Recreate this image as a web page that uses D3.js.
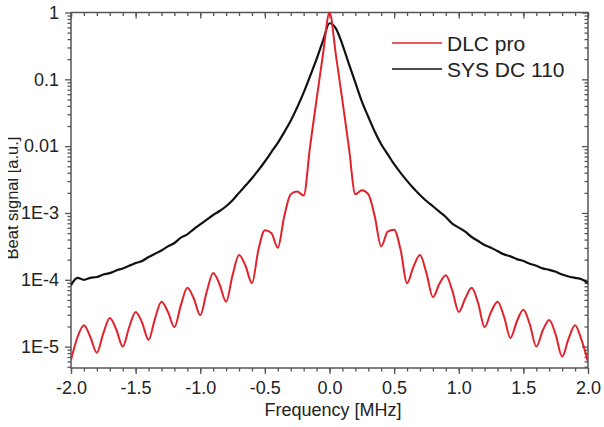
<!DOCTYPE html>
<html>
<head>
<meta charset="utf-8">
<script src="https://cdn.jsdelivr.net/npm/d3@7"></script>
<style>
  body { margin: 0; background: #fff; }
  text { font-family: "Liberation Sans", Arial, sans-serif; fill: #222; }
</style>
</head>
<body>
<div class="beat_plot"></div>
<script>
// frequency grid in MHz (sampling every 0.05 MHz)
const freq = d3.range(81).map(i => +(-2 + i * 0.05).toFixed(2));

// DLC pro beat signal [a.u.]
const dlcPro = [
  6.3e-6, 1.38e-5, 2.09e-5, 1.38e-5, 8.1e-6, 1.58e-5, 2.69e-5, 1.82e-5, 1.0e-5, 1.95e-5,
  3.31e-5, 2.29e-5, 1.26e-5, 2.63e-5, 4.68e-5, 3.31e-5, 1.95e-5, 4.17e-5, 7.59e-5, 5.25e-5,
  2.95e-5, 6.61e-5, 1.26e-4, 8.51e-5, 4.68e-5, 1.17e-4, 2.34e-4, 1.62e-4, 8.91e-5, 2.82e-4,
  5.5e-4, 5.01e-4, 3.02e-4, 8.91e-4, 1.91e-3, 2.09e-3, 1.82e-3, 1.0e-2, 5.01e-2, 0.24,
  1.0,
  0.229, 4.79e-2, 9.55e-3, 1.91e-3, 2.19e-3, 1.91e-3, 8.91e-4, 3.16e-4, 5.25e-4, 5.62e-4,
  2.82e-4, 8.91e-5, 1.58e-4, 2.34e-4, 1.26e-4, 5.5e-5, 8.71e-5, 1.17e-4, 6.92e-5, 3.31e-5,
  5.25e-5, 7.59e-5, 4.47e-5, 1.95e-5, 3.31e-5, 4.68e-5, 2.82e-5, 1.35e-5, 2.4e-5, 3.55e-5,
  2.14e-5, 1.0e-5, 1.74e-5, 2.51e-5, 1.51e-5, 7.08e-6, 1.32e-5, 2.09e-5, 1.26e-5, 5.89e-6
];

// SYS DC 110 beat signal [a.u.]
const sysDc = [
  8.32e-5, 1.07e-4, 1.0e-4, 1.07e-4, 1.1e-4, 1.2e-4, 1.26e-4, 1.38e-4, 1.48e-4, 1.62e-4,
  1.78e-4, 1.91e-4, 2.19e-4, 2.45e-4, 2.75e-4, 3.16e-4, 3.55e-4, 4.27e-4, 4.79e-4, 5.75e-4,
  6.76e-4, 7.94e-4, 9.33e-4, 1.07e-3, 1.26e-3, 1.55e-3, 2.0e-3, 2.57e-3, 3.31e-3, 4.37e-3,
  5.89e-3, 8.13e-3, 1.12e-2, 1.62e-2, 2.4e-2, 3.8e-2, 6.31e-2, 0.112, 0.2, 0.38,
  0.69,
  0.575, 0.331, 0.17, 8.91e-2, 4.68e-2, 2.75e-2, 1.66e-2, 1.07e-2, 7.59e-3, 5.37e-3,
  3.98e-3, 3.02e-3, 2.34e-3, 1.86e-3, 1.51e-3, 1.26e-3, 1.05e-3, 8.71e-4, 6.92e-4, 6.03e-4,
  5.25e-4, 4.37e-4, 3.8e-4, 3.31e-4, 3.02e-4, 2.69e-4, 2.4e-4, 2.24e-4, 2.04e-4, 1.91e-4,
  1.74e-4, 1.62e-4, 1.48e-4, 1.41e-4, 1.32e-4, 1.2e-4, 1.12e-4, 1.07e-4, 1.02e-4, 8.91e-5
];

const xTicks = [-2, -1.5, -1, -0.5, 0, 0.5, 1, 1.5, 2];
const yTicks = [1, 0.1, 0.01, 1e-3, 1e-4, 1e-5];
const yTickLabels = ['1', '0.1', '0.01', '1E-3', '1E-4', '1E-5'];
const seriesNames = ['DLC pro', 'SYS DC 110'];
const seriesColors = ['#e3212b', '#111'];

const margin = {top: 12.5, right: 16, bottom: 59, left: 71};
const width = 604 - margin.left - margin.right,
      height = 427 - margin.top - margin.bottom;

const xScale = d3.scaleLinear().domain([-2, 2]).range([0, width]);
const yScale = d3.scaleLog().domain([Math.pow(10, -5.32), 1]).range([height, 0]);

const svg = d3.select('.beat_plot')
              .append('svg')
              .attr('width', 604)
              .attr('height', 427);

const g = svg.append('g')
             .attr('transform', 'translate(' + margin.left + ',' + margin.top + ')');

g.append('clipPath').attr('id', 'plotclip')
 .append('rect').attr('x', 0).attr('y', -2).attr('width', width).attr('height', height + 2);

// minor tick values
const xMinor = d3.range(41).map(i => +(-2 + i * 0.1).toFixed(1));
const yMinor = [];
for (let e = -6; e <= 0; e++) {
  for (let m = 2; m <= 9; m++) {
    const v = m * Math.pow(10, e);
    if (v >= yScale.domain()[0] && v <= 1) yMinor.push(v);
  }
}

function styleAxis(sel) {
  sel.select('.domain').remove();
  sel.selectAll('line').attr('stroke', '#555').attr('stroke-width', 1.3);
}

// bottom axis
g.append('g').attr('transform', `translate(0, ${height})`)
 .call(d3.axisBottom(xScale).tickValues(xMinor).tickSize(3.5).tickFormat(''))
 .call(styleAxis);
g.append('g').attr('class', 'axis x-axis').attr('transform', `translate(0, ${height})`)
 .call(d3.axisBottom(xScale).tickValues(xTicks).tickSize(6).tickPadding(7).tickFormat(d => d.toFixed(1)))
 .call(styleAxis)
 .selectAll('text').attr('font-size', 18).attr('fill', '#222');

// top axis (mirror, inward)
g.append('g')
 .call(d3.axisTop(xScale).tickValues(xMinor).tickSize(-3.5).tickFormat(''))
 .call(styleAxis);
g.append('g')
 .call(d3.axisTop(xScale).tickValues(xTicks).tickSize(-6).tickFormat(''))
 .call(styleAxis);

// left axis
g.append('g')
 .call(d3.axisLeft(yScale).tickValues(yMinor).tickSize(3.5).tickFormat(''))
 .call(styleAxis);
g.append('g').attr('class', 'axis y-axis')
 .call(d3.axisLeft(yScale).tickValues(yTicks).tickSize(6).tickPadding(6)
        .tickFormat((d, i) => yTickLabels[i]))
 .call(styleAxis)
 .selectAll('text').attr('font-size', 18).attr('fill', '#222');

// right axis (mirror, inward)
g.append('g').attr('transform', `translate(${width}, 0)`)
 .call(d3.axisRight(yScale).tickValues(yMinor).tickSize(-3.5).tickFormat(''))
 .call(styleAxis);
g.append('g').attr('transform', `translate(${width}, 0)`)
 .call(d3.axisRight(yScale).tickValues(yTicks).tickSize(-6).tickFormat(''))
 .call(styleAxis);

// frame
g.append('rect')
 .attr('width', width).attr('height', height)
 .attr('fill', 'none').attr('stroke', '#555').attr('stroke-width', 1.5);

const line = d3.line()
               .x((d, i) => xScale(freq[i]))
               .y(d => yScale(d))
               .curve(d3.curveMonotoneX);

const plot = g.append('g').attr('clip-path', 'url(#plotclip)');
plot.append('path').datum(sysDc)
    .attr('fill', 'none').attr('stroke', seriesColors[1]).attr('stroke-width', 2.2)
    .attr('d', line);
plot.append('path').datum(dlcPro)
    .attr('fill', 'none').attr('stroke', seriesColors[0]).attr('stroke-width', 2)
    .attr('d', line);

// legend
const legend = svg.append('g').attr('transform', 'translate(392, 43)');
seriesNames.forEach((name, i) => {
  legend.append('line')
        .attr('x1', 0).attr('x2', 50).attr('y1', i * 26).attr('y2', i * 26)
        .attr('stroke', seriesColors[i]).attr('stroke-width', 1.6);
  legend.append('text')
        .attr('x', 55).attr('y', i * 26 + 7.5)
        .attr('font-size', 21)
        .text(name);
});

// axis titles
svg.append('text')
   .attr('x', 333).attr('y', 416)
   .attr('text-anchor', 'middle')
   .attr('font-size', 18)
   .text('Frequency [MHz]');

svg.append('clipPath').attr('id', 'ylabclip')
   .append('rect').attr('x', 8).attr('y', 0).attr('width', 30).attr('height', 427);
svg.append('g').attr('clip-path', 'url(#ylabclip)')
   .append('text')
   .attr('transform', 'translate(18, 198) rotate(-90)')
   .attr('text-anchor', 'middle')
   .attr('font-size', 16.5)
   .text('Beat signal [a.u.]');
</script>
</body>
</html>
